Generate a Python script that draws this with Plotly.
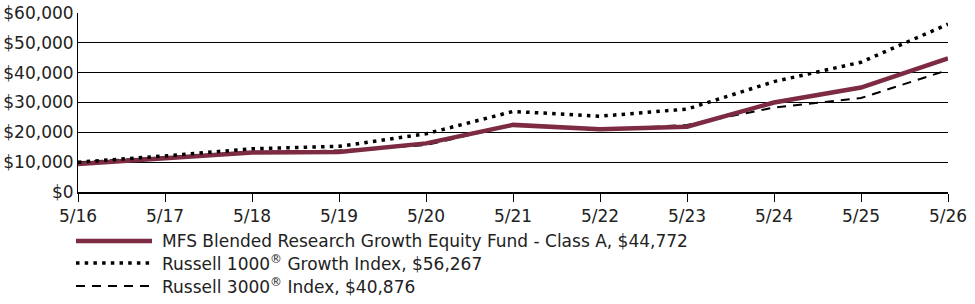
import plotly.graph_objects as go

periods = ["5/16", "5/17", "5/18", "5/19", "5/20", "5/21", "5/22", "5/23", "5/24", "5/25", "5/26"]
fund = [9425, 11200, 13200, 13400, 16300, 22500, 21000, 21900, 30000, 35000, 44772]
r1000g = [10000, 12100, 14500, 15300, 19500, 27000, 25400, 27800, 37000, 43500, 56267]
r3000 = [10000, 11700, 13400, 13900, 15700, 22500, 20700, 22500, 28300, 31500, 40876]
y_ticks = [0, 10000, 20000, 30000, 40000, 50000, 60000]
y_labels = ["$0", "$10,000", "$20,000", "$30,000", "$40,000", "$50,000", "$60,000"]

names = [
    "MFS Blended Research Growth Equity Fund - Class A, $44,772",
    "Russell 1000<sup>®</sup> Growth Index, $56,267",
    "Russell 3000<sup>®</sup> Index, $40,876",
]

FONT = "DejaVu Sans, Verdana, sans-serif"
FS = 17
MAROON = "#7d2a43"

fig = go.Figure()
fig.add_trace(go.Scatter(x=periods, y=r3000, mode="lines",
                         line=dict(color="black", width=2, dash="9px,7px"), showlegend=False))
fig.add_trace(go.Scatter(x=periods, y=fund, mode="lines",
                         line=dict(color=MAROON, width=4.5), showlegend=False))
fig.add_trace(go.Scatter(x=periods, y=r1000g, mode="lines",
                         line=dict(color="black", width=3.5, dash="3.5px,5.2px"), showlegend=False))

W, H = 975, 304
ml, mr, mt, mb = 78, 27, 13, 112

# custom legend
leg_y = [241, 263, 286]
styles = [dict(color=MAROON, width=4.5), dict(color="black", width=3.5, dash="3.5px,5.2px"),
          dict(color="black", width=2, dash="9px,7px")]
shapes = []
annotations = []
pw = W - ml - mr
ph = H - mt - mb
for yy, st, nm in zip(leg_y, styles, names):
    yp = 1 - (yy - mt) / ph
    x0 = (76 - ml) / pw
    x1 = (152 - ml) / pw
    shapes.append(dict(type="line", xref="paper", yref="paper", x0=x0, x1=x1, y0=yp, y1=yp,
                       line=st))
    annotations.append(dict(xref="paper", yref="paper", x=(160 - ml) / pw, y=yp, text=nm,
                            showarrow=False, xanchor="left", yanchor="middle",
                            font=dict(family=FONT, size=FS, color="#222")))

fig.update_layout(
    width=W, height=H,
    margin=dict(l=ml, r=mr, t=mt, b=mb, autoexpand=False),
    paper_bgcolor="white", plot_bgcolor="white",
    font=dict(family=FONT, size=FS, color="#222"),
    shapes=shapes, annotations=annotations,
    showlegend=False,
)
fig.update_xaxes(range=[0, 10], showline=True, linecolor="black", linewidth=1.5,
                 ticks="outside", ticklen=8, tickcolor="black", tickwidth=1, automargin=False,
                 showgrid=False, zeroline=False, tickfont=dict(family=FONT, size=FS))
fig.update_yaxes(range=[0, 60000], tickmode="array", tickvals=y_ticks, ticktext=y_labels,
                 showline=True, linecolor="black", linewidth=1, automargin=False,
                 showgrid=True, gridcolor="black", gridwidth=1, zeroline=False,
                 ticks="outside", ticklen=0, tickfont=dict(family=FONT, size=FS))

fig.write_html("out.html")
